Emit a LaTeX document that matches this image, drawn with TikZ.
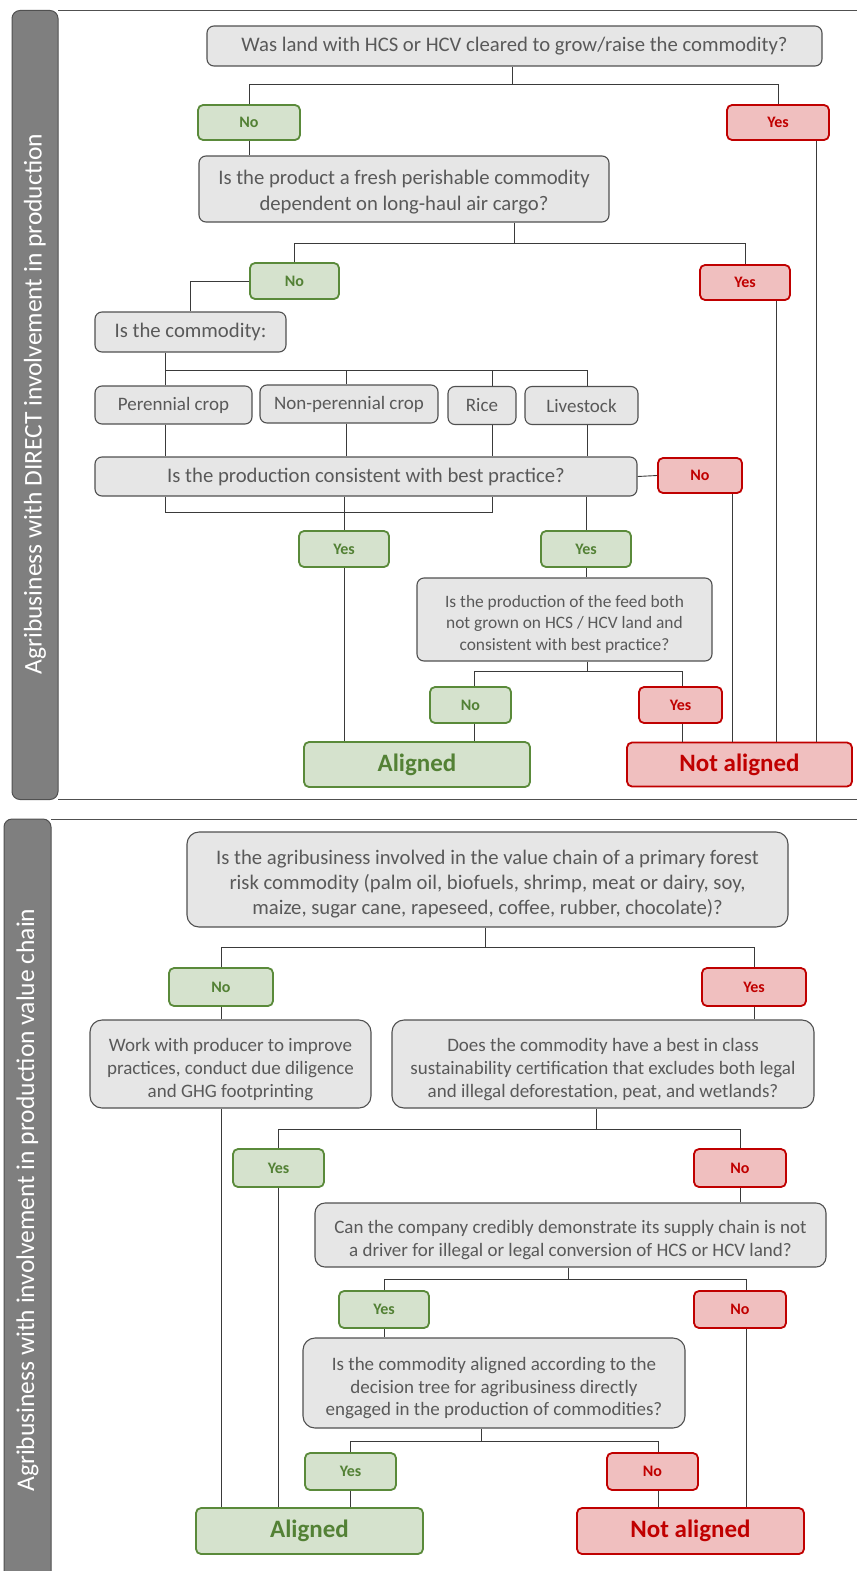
\documentclass[tikz,border=0pt]{standalone}
\usepackage{fontspec}
\setmainfont{Carlito}
\definecolor{qfill}{HTML}{E6E6E6}
\definecolor{qdraw}{HTML}{505050}
\definecolor{qtext}{HTML}{595959}
\definecolor{gfill}{HTML}{D5E2CD}
\definecolor{gdraw}{HTML}{5A8A3A}
\definecolor{gtext}{HTML}{538135}
\definecolor{rfill}{HTML}{F0BFBF}
\definecolor{rdraw}{HTML}{C00000}
\definecolor{rtext}{HTML}{C00000}
\definecolor{sfill}{HTML}{7F7F7F}
\definecolor{lcol}{HTML}{3A3A3A}
\newcommand{\tstrut}[1]{\rule{0pt}{#1pt}}
\tikzset{
  wh/.style 2 args={minimum width=#1, minimum height=#2},
  qbox/.style={draw=qdraw, fill=qfill, text=qtext, rounded corners=7pt, line width=1.1pt,
    align=center, inner sep=0pt, font=\fontsize{20.7}{26}\selectfont},
  gbox/.style={draw=gdraw, fill=gfill, text=gtext, rounded corners=5pt, line width=1.8pt,
    inner sep=0pt, font=\fontsize{16}{18}\selectfont\bfseries},
  rbox/.style={draw=rdraw, fill=rfill, text=rtext, rounded corners=5pt, line width=1.8pt,
    inner sep=0pt, font=\fontsize{16}{18}\selectfont\bfseries},
  gbig/.style={gbox, font=\fontsize{25}{28}\selectfont\bfseries},
  rbig/.style={rbox, font=\fontsize{25}{28}\selectfont\bfseries},
  conn/.style={draw=lcol, line width=0.9pt},
  side/.style={draw=qdraw, fill=sfill, line width=1pt, rounded corners=8pt},
  sidetext/.style={text=white, font=\fontsize{25.5}{28}\selectfont, rotate=90},
  frameline/.style={draw=qdraw, line width=1pt}
}
\begin{document}
\begin{tikzpicture}[x=1pt,y=-1pt]
\useasboundingbox (0,0) rectangle (857,1571);
% ---------- panel 1 frame ----------
\draw[frameline] (58,10.5) -- (857,10.5);
\draw[frameline] (58,799.5) -- (857,799.5);
\draw[side] (12,10.5) rectangle (58,799.5);
\node[sidetext] (s1) at (35,404) {Agribusiness with DIRECT involvement in production};
% ---------- panel 1 nodes ----------
\node[qbox, wh={615}{40}] (q1) at (514.5,46) {Was land with HCS or HCV cleared to grow/raise the commodity?};
\node[gbox, wh={102}{35}] (no1) at (249,122.5) {No};
\node[rbox, wh={102}{35}] (yes1) at (778,122.5) {Yes};
\node[qbox, wh={410}{66}] (q2) at (404,189) {\tstrut{21}Is the product a fresh perishable commodity\\dependent on long-haul air cargo?};
\node[gbox, wh={89}{36}] (no2) at (294.5,281) {No};
\node[rbox, wh={90}{35}] (yes2) at (745,282.5) {Yes};
\node[qbox, wh={191}{40}] (q3) at (190.5,332) {Is the commodity:};
\node[qbox, wh={157}{38}, font=\fontsize{19}{25}\selectfont] (pc) at (173.5,405) {Perennial crop};
\node[qbox, wh={178}{38}, font=\fontsize{19}{25}\selectfont] (npc) at (349,404) {Non-perennial crop};
\node[qbox, wh={68}{38}, font=\fontsize{19}{25}\selectfont] (rice) at (482,405.5) {Rice};
\node[qbox, wh={113}{38}, font=\fontsize{19}{25}\selectfont] (live) at (581.5,405.5) {Livestock};
\node[qbox, wh={542}{39}] (q4) at (366,476.5) {Is the production consistent with best practice?};
\node[rbox, wh={84}{35}] (no3) at (700,475.5) {No};
\node[gbox, wh={90}{36}] (yes3) at (344,549) {Yes};
\node[gbox, wh={90}{36}] (yes4) at (586,549) {Yes};
\node[qbox, wh={295}{83}, font=\fontsize{17.4}{21.5}\selectfont] (q5) at (564.5,619.5) {\tstrut{21}Is the production of the feed both\\not grown on HCS / HCV land and\\consistent with best practice?};
\node[gbox, wh={81}{36}] (no4) at (470.5,705) {No};
\node[rbox, wh={83}{36}] (yes5) at (680.5,705) {Yes};
\node[gbig, wh={226}{45}] (al1) at (417,764.5) {Aligned};
\node[rbig, wh={225}{44}] (na1) at (739.5,764.5) {Not aligned};
% ---------- panel 1 connector anchors ----------
\coordinate (a1) at ([xshift=38]yes1.south);
\coordinate (a2) at ([xshift=31]yes2.south);
\coordinate (a3) at ([xshift=32]no3.south);
\coordinate (xp) at ([xshift=-8.5]pc.north);
\coordinate (xn) at ([xshift=-3]npc.north);
\coordinate (xr) at ([xshift=10]rice.north);
\coordinate (xl) at ([xshift=5.5]live.north);
\coordinate (xno4) at ([xshift=3.5]no4.north);
\coordinate (xyes5) at ([xshift=1.5]yes5.north);
% ---------- panel 1 connectors ----------
\draw[conn] ([xshift=-2.5]q1.south) -- ++(0,18) coordinate (j1);
\draw[conn] (no1.north) |- (j1) -| (yes1.north);
\draw[conn] (no1.south) -- (no1.south |- q2.north);
\draw[conn] (a1) -- (a1 |- na1.north);
\draw[conn] ([xshift=110]q2.south) -- ++(0,21) coordinate (j2);
\draw[conn] (no2.north) |- (j2) -| (yes2.north);
\draw[conn] (no2.west) -| ([xshift=-0.5]q3.north);
\draw[conn] (a2) -- (a2 |- na1.north);
\draw[conn] ([xshift=-25.5]q3.south) -- ++(0,18) coordinate (j3);
\draw[conn] (xp) |- (j3) -| (xl);
\draw[conn] (xn) -- (xn |- j3);
\draw[conn] (xr) -- (xr |- j3);
\draw[conn] (xp |- pc.south) -- (xp |- q4.north);
\draw[conn] (xn |- npc.south) -- (xn |- q4.north);
\draw[conn] (xr |- rice.south) -- (xr |- q4.north);
\draw[conn] (xl |- live.south) -- (xl |- q4.north);
\draw[conn] (q4.east) -- (no3.west);
\draw[conn] (a3) -- (a3 |- na1.north);
\draw[conn] (xp |- q4.south) -- ++(0,16) coordinate (j4) -- (j4 -| xr) -- (xr |- q4.south);
\draw[conn] (yes3.north |- q4.south) -- (yes3.north);
\draw[conn] (yes4.north |- q4.south) -- (yes4.north);
\draw[conn] (yes3.south) -- (yes3.south |- al1.north);
\draw[conn] (yes4.south) -- (yes4.south |- q5.north);
\draw[conn] ([xshift=22.5]q5.south) -- ++(0,10) coordinate (j5);
\draw[conn] (xno4) |- (j5) -| (xyes5);
\draw[conn] (xno4 |- no4.south) -- (xno4 |- al1.north);
\draw[conn] (xyes5 |- yes5.south) -- (xyes5 |- na1.north);
% ---------- panel 2 frame ----------
\draw[frameline] (51,819) -- (857,819);
\draw[side] (4,819) -- (4,1580) -- (51,1580) -- (51,819) -- cycle;
\node[sidetext] (s2) at (27.5,1200) {Agribusiness with involvement in production value chain};
% ---------- panel 2 nodes ----------
\node[qbox, wh={601}{95}, rounded corners=12pt, font=\fontsize{20.7}{25}\selectfont] (p1) at (487.5,879.5) {\tstrut{23}Is the agribusiness involved in the value chain of a primary forest\\risk commodity (palm oil, biofuels, shrimp, meat or dairy, soy,\\maize, sugar cane, rapeseed, coffee, rubber, chocolate)?};
\node[gbox, wh={104}{38}] (bno1) at (221,987) {No};
\node[rbox, wh={104}{38}] (byes1) at (754,987) {Yes};
\node[qbox, wh={281}{88}, rounded corners=12pt, font=\fontsize{19}{22.8}\selectfont] (work) at (230.5,1064) {\tstrut{24}Work with producer to improve\\practices, conduct due diligence\\and GHG footprinting};
\node[qbox, wh={422}{88}, rounded corners=12pt, font=\fontsize{19}{22.8}\selectfont] (p2) at (603,1064) {\tstrut{24}Does the commodity have a best in class\\sustainability certification that excludes both legal\\and illegal deforestation, peat, and wetlands?};
\node[gbox, wh={91}{38}] (byes2) at (278.5,1168) {Yes};
\node[rbox, wh={92}{38}] (bno2) at (740,1168) {No};
\node[qbox, wh={511}{64}, rounded corners=10pt, font=\fontsize{19}{22.8}\selectfont] (p3) at (570.5,1235) {\tstrut{24}Can the company credibly demonstrate its supply chain is not\\a driver for illegal or legal conversion of HCS or HCV land?};
\node[gbox, wh={90}{37}] (byes3) at (384,1309.5) {Yes};
\node[rbox, wh={92}{37}] (bno3) at (740,1309.5) {No};
\node[qbox, wh={382}{90}, rounded corners=12pt, font=\fontsize{19}{22.5}\selectfont] (p4) at (494,1383) {\tstrut{24}Is the commodity aligned according to the\\decision tree for agribusiness directly\\engaged in the production of commodities?};
\node[gbox, wh={91}{37}] (byes4) at (350.5,1471.5) {Yes};
\node[rbox, wh={91}{37}] (bno4) at (652.5,1471.5) {No};
\node[gbig, wh={227}{46}] (al2) at (309.5,1531) {Aligned};
\node[rbig, wh={227}{46}] (na2) at (690.5,1531) {Not aligned};
% ---------- panel 2 connector anchors ----------
\coordinate (b1) at ([xshift=-9.5]work.south);
\coordinate (b2) at ([xshift=6.5]bno3.north);
\coordinate (b3) at ([xshift=5.5]bno4.north);
% ---------- panel 2 connectors ----------
\draw[conn] ([xshift=-2.5]p1.south) -- ++(0,20) coordinate (k1);
\draw[conn] (bno1.north) |- (k1) -| (byes1.north);
\draw[conn] (bno1.south) -- (bno1.south |- work.north);
\draw[conn] (byes1.south) -- (byes1.south |- p2.north);
\draw[conn] (b1) -- (b1 |- al2.north);
\draw[conn] ([xshift=-7]p2.south) -- ++(0,21) coordinate (k2);
\draw[conn] (byes2.north) |- (k2) -| (bno2.north);
\draw[conn] (byes2.south) -- (byes2.south |- al2.north);
\draw[conn] (bno2.south) -- (bno2.south |- p3.north);
\draw[conn] ([xshift=-2.5]p3.south) -- ++(0,12) coordinate (k3);
\draw[conn] (byes3.north) |- (k3) -| (b2);
\draw[conn] (byes3.south) -- (byes3.south |- p4.north);
\draw[conn] (b2 |- bno3.south) -- (b2 |- na2.north);
\draw[conn] ([xshift=-13]p4.south) -- ++(0,13) coordinate (k4);
\draw[conn] (byes4.north) |- (k4) -| (b3);
\draw[conn] (byes4.south) -- (byes4.south |- al2.north);
\draw[conn] (b3 |- bno4.south) -- (b3 |- na2.north);
\end{tikzpicture}
\end{document}
